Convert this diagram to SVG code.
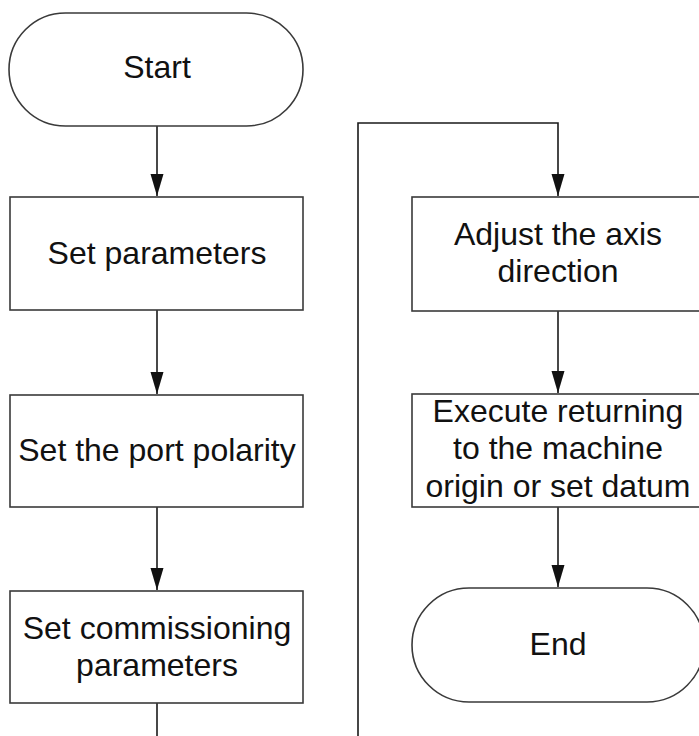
<svg xmlns="http://www.w3.org/2000/svg" width="699" height="736" viewBox="0 0 699 736">
  <style>
    .shape { fill: #ffffff; stroke: #3a3a3a; stroke-width: 1.6; }
    .label { font-family: "Liberation Sans", Arial, sans-serif; font-size: 32px; fill: #111111; text-anchor: middle; }
    .wire { fill: none; stroke: #1a1a1a; stroke-width: 1.6; }
  </style>
  <defs>
    <!-- solid triangular head, drawn pointing along +x so orient="auto" follows the line -->
    <marker id="arrow" markerUnits="userSpaceOnUse" markerWidth="23" markerHeight="14" viewBox="0 0 23 14" refX="22" refY="7" orient="auto">
      <path d="M0,0.5 L22,7 L0,13.5 Z" fill="#111111"/>
    </marker>
  </defs>
  <rect width="699" height="736" fill="#ffffff"/>

  <!-- connectors -->
  <g id="connectors">
    <line class="wire" x1="157" y1="126" x2="157" y2="196" marker-end="url(#arrow)"/>
    <line class="wire" x1="157" y1="310" x2="157" y2="394" marker-end="url(#arrow)"/>
    <line class="wire" x1="157" y1="507" x2="157" y2="590" marker-end="url(#arrow)"/>
    <line class="wire" x1="157" y1="703" x2="157" y2="736"/>
    <polyline class="wire" points="358,736 358,123 558,123 558,196" marker-end="url(#arrow)"/>
    <line class="wire" x1="558" y1="311" x2="558" y2="393" marker-end="url(#arrow)"/>
    <line class="wire" x1="558" y1="507" x2="558" y2="587" marker-end="url(#arrow)"/>
  </g>

  <!-- left column -->
  <g id="start">
    <rect class="shape" x="9" y="13" width="294" height="113" rx="56.5" ry="56.5"/>
    <text class="label" x="157" y="78">Start</text>
  </g>
  <g id="set-parameters">
    <rect class="shape" x="10" y="197" width="293" height="113"/>
    <text class="label" x="157" y="264">Set parameters</text>
  </g>
  <g id="set-port-polarity">
    <rect class="shape" x="10" y="395" width="293" height="112"/>
    <text class="label" x="157" y="461">Set the port polarity</text>
  </g>
  <g id="set-commissioning">
    <rect class="shape" x="10" y="591" width="293" height="112"/>
    <text class="label" x="157" y="639">Set commissioning</text>
    <text class="label" x="157" y="676">parameters</text>
  </g>

  <!-- right column -->
  <g id="adjust-axis">
    <rect class="shape" x="412" y="197" width="292" height="114"/>
    <text class="label" x="558" y="245">Adjust the axis</text>
    <text class="label" x="558" y="282">direction</text>
  </g>
  <g id="execute-return">
    <rect class="shape" x="412" y="394" width="292" height="113"/>
    <text class="label" x="558" y="422">Execute returning</text>
    <text class="label" x="558" y="459">to the machine</text>
    <text class="label" x="558" y="497">origin or set datum</text>
  </g>
  <g id="end">
    <rect class="shape" x="412" y="588" width="292" height="114" rx="57" ry="57"/>
    <text class="label" x="558" y="655">End</text>
  </g>
</svg>
